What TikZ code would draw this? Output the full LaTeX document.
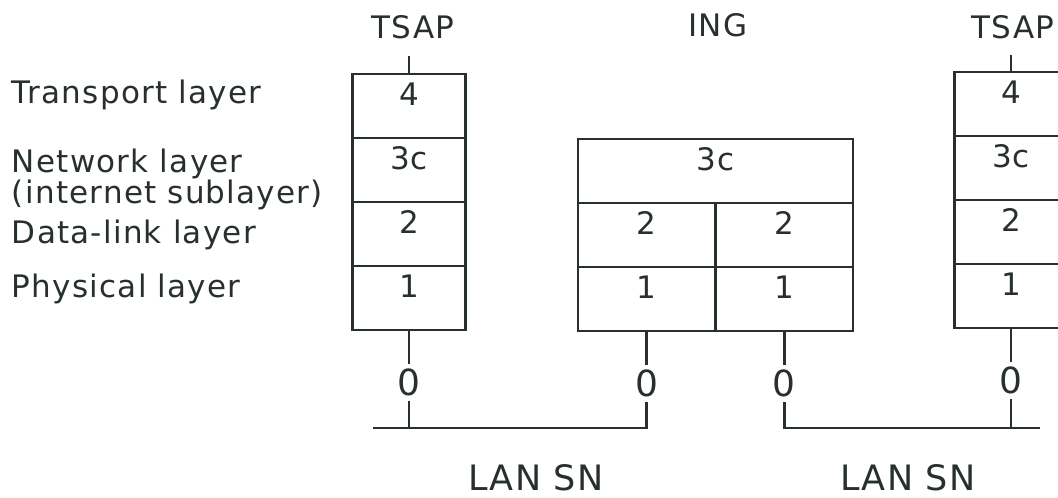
\documentclass[tikz,border=0pt]{standalone}
\usepackage{fontspec}
\setmainfont{DejaVu Sans}[LetterSpace=4]
\usetikzlibrary{positioning}
\definecolor{ink}{RGB}{40,48,45}

\begin{document}
\begin{tikzpicture}
	[x=1pt, y=-1pt, color=ink, line width=2.9pt,
	 every node/.style={inner sep=0, outer sep=0, font=\fontsize{31}{36}\selectfont},
	 cell/.style={draw, minimum width=113pt, text height=31pt, text depth=33pt},
	 half/.style={cell, minimum width=137.5pt},
	 zero/.style={inner ysep=5pt, font=\fontsize{36}{40}\selectfont},
	 side/.style={anchor=base west},
	 lan/.style={font=\fontsize{35}{40}\selectfont}]
	\useasboundingbox (0,0) rectangle (1058,498);
	\node (tsap1) at (413, 27) {TSAP};
	\node (ing) at (718, 25) {ING};
	\node (tsap2) at (1013, 27) {TSAP};
	\node (transport) [side] at (12, 103) {Transport layer};
	\node (network) [side] at (12, 172) {Network layer};
	\node (internet) [side] at (12, 203) {(internet sublayer)};
	\node (datalink) [side] at (12, 243) {Data-link layer};
	\node (physical) [side] at (12, 297) {Physical layer};
	\node (t4) [cell] at (409, 106) {4};
	\node (t3) [cell, below=0pt of t4] {3c};
	\node (t2) [cell, below=0pt of t3] {2};
	\node (t1) [cell, below=0pt of t2] {1};
	\node (g3) [cell, minimum width=275pt] at (715.5, 171) {3c};
	\node (g2a) [half, below right=0pt and 0pt of g3.south west] {2};
	\node (g2b) [half, right=0pt of g2a] {2};
	\node (g1a) [half, below=0pt of g2a] {1};
	\node (g1b) [half, below=0pt of g2b] {1};
	\node (u4) [cell] at (1011, 104) {4};
	\node (u3) [cell, below=0pt of u4] {3c};
	\node (u2) [cell, below=0pt of u3] {2};
	\node (u1) [cell, below=0pt of u2] {1};
	\node (z1) [zero, below=34pt of t1] {0};
	\node (z2) [zero, below=34pt of g1a] {0};
	\node (z3) [zero, below=34pt of g1b] {0};
	\node (z4) [zero, below=34pt of u1] {0};
	\node (lan1) [lan] at (536, 478) {LAN SN};
	\node (lan2) [lan] at (908, 478) {LAN SN};
	\coordinate (sap1) at (409, 56);
	\coordinate (sap2) at (1011, 55);
	\coordinate (lanA) at (373, 428);
	\coordinate (lanB) at (1040, 428);
	\draw (sap1) -- (t4);
	\draw (sap2) -- (u4);
	\draw (t1) -- (z1);
	\draw (g1a) -- (z2);
	\draw (g1b) -- (z3);
	\draw (u1) -- (z4);
	\draw (z1) -- (z1 |- lanA);
	\draw (lanA) -- (z2 |- lanA) -- (z2);
	\draw (z3) -- (z3 |- lanB) -- (lanB);
	\draw (z4) -- (z4 |- lanB);
\end{tikzpicture}
\end{document}
